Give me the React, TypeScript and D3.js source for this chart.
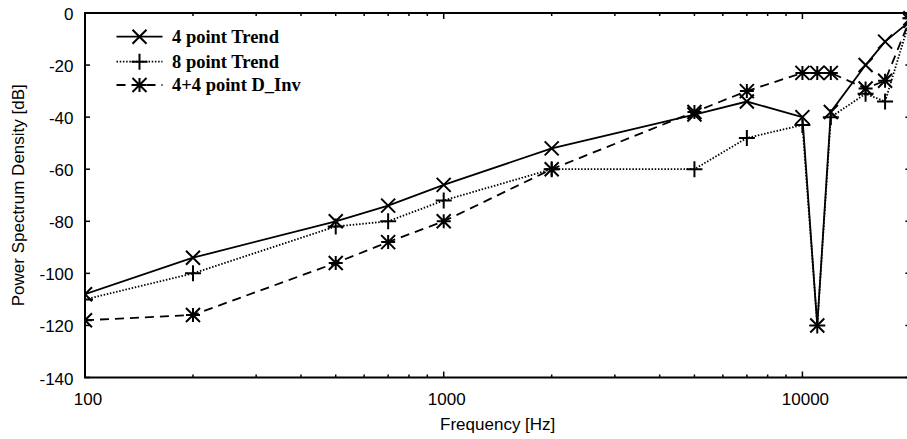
import React from "react";
import * as d3 from "d3";

const freqs = [100, 200, 500, 700, 1000, 2000, 5000, 7000, 10000, 11000, 12000, 15000, 17000, 20000];
const trend4 = [-108, -94, -80, -74, -66, -52, -39, -34, -40, -120, -38, -20, -11, -3];
const trend8 = [-110, -100, -82, -80, -72, -60, -60, -48, -43, -120, -40, -31, -34, -2];
const dInv = [-118, -116, -96, -88, -80, -60, -38, -30, -23, -23, -23, -29, -26, -2];

const seriesNames = ["4 point Trend", "8 point Trend", "4+4 point D_Inv"];
const yTicks = [0, -20, -40, -60, -80, -100, -120, -140];
const xMajor = [100, 1000, 10000];

const W = 907;
const H = 439;
const left = 85;
const right = 910.4;
const top = 13;
const bottom = 377.5;

const x = d3.scaleLog().domain([100, 20000]).range([left, right]);
const y = d3.scaleLinear().domain([-140, 0]).range([bottom, top]);

type Marker = "x" | "plus" | "star";

function MarkerShape({ cx, cy, kind, r = 7 }: { cx: number; cy: number; kind: Marker; r?: number }) {
  const parts: string[] = [];
  if (kind === "x" || kind === "star") {
    parts.push(`M${cx - r},${cy - r}L${cx + r},${cy + r}M${cx - r},${cy + r}L${cx + r},${cy - r}`);
  }
  if (kind === "plus" || kind === "star") {
    const p = kind === "star" ? r : r + 1;
    parts.push(`M${cx - p},${cy}L${cx + p},${cy}M${cx},${cy - p}L${cx},${cy + p}`);
  }
  return <path d={parts.join("")} stroke="#000" strokeWidth={2} fill="none" />;
}

const seriesDefs = [
  { name: seriesNames[0], values: trend4, dash: "none", marker: "x" as Marker },
  { name: seriesNames[1], values: trend8, dash: "1.5,1.7", marker: "plus" as Marker },
  { name: seriesNames[2], values: dInv, dash: "9,6", marker: "star" as Marker },
];

export default function App() {
  const line = d3
    .line<number>()
    .x((_, i) => x(freqs[i]))
    .y((v) => y(v));

  const minorTicks: number[] = [];
  for (let dec = 100; dec < 20000; dec *= 10) {
    for (let k = 2; k <= 9; k++) {
      const f = dec * k;
      if (f <= 20000) minorTicks.push(f);
    }
  }

  const sans = "'Liberation Sans', Arial, sans-serif";
  const serif = "'Liberation Serif', 'Times New Roman', serif";

  const legendRows = [36.7, 61.7, 85];

  return (
    <div style={{ position: "absolute", left: 0, top: 0 }}>
      <svg width={W} height={H} style={{ display: "block", background: "#fff" }}>
        <defs>
          <clipPath id="plotclip">
            <rect x={left} y={top - 10} width={right - left + 10} height={bottom - top + 20} />
          </clipPath>
        </defs>
        <rect x={0} y={0} width={W} height={H} fill="#fff" />

        {/* minor x ticks */}
        {minorTicks.map((f) => (
          <g key={"mt" + f}>
            <line x1={x(f)} x2={x(f)} y1={bottom} y2={bottom - 3} stroke="#000" strokeWidth={1.5} />
            <line x1={x(f)} x2={x(f)} y1={top} y2={top + 3} stroke="#000" strokeWidth={1.5} />
          </g>
        ))}
        {/* major x ticks */}
        {xMajor.map((f) => (
          <g key={"xt" + f}>
            <line x1={x(f)} x2={x(f)} y1={bottom} y2={bottom - 6} stroke="#000" strokeWidth={1.5} />
            <line x1={x(f)} x2={x(f)} y1={top} y2={top + 6} stroke="#000" strokeWidth={1.5} />
            <text x={x(f) + 3} y={405} textAnchor="middle" fontFamily={sans} fontSize={17} fill="#000">
              {f}
            </text>
          </g>
        ))}
        {/* y ticks */}
        {yTicks.map((v) => (
          <g key={"yt" + v}>
            <line x1={left} x2={left + 5} y1={y(v)} y2={y(v)} stroke="#000" strokeWidth={1.5} />
            <line x1={right} x2={right - 5} y1={y(v)} y2={y(v)} stroke="#000" strokeWidth={1.5} />
            <text x={73.5} y={y(v) + 7} textAnchor="end" fontFamily={sans} fontSize={17} fill="#000">
              {v}
            </text>
          </g>
        ))}

        {/* frame */}
        <rect x={left} y={top} width={right - left} height={bottom - top} fill="none" stroke="#000" strokeWidth={2} />

        {/* series */}
        <g clipPath="url(#plotclip)">
          {seriesDefs.map((s) => (
            <path
              key={"l" + s.name}
              d={line(s.values) || ""}
              fill="none"
              stroke="#000"
              strokeWidth={1.8}
              strokeDasharray={s.dash}
            />
          ))}
          {seriesDefs.map((s) =>
            s.values.map((v, i) => (
              <MarkerShape key={s.name + i} cx={x(freqs[i])} cy={y(v)} kind={s.marker} />
            ))
          )}
        </g>

        {/* legend */}
        {seriesDefs.map((s, i) => (
          <g key={"lg" + s.name}>
            <line
              x1={116.5}
              x2={162.5}
              y1={legendRows[i]}
              y2={legendRows[i]}
              stroke="#000"
              strokeWidth={1.8}
              strokeDasharray={s.dash}
            />
            <MarkerShape cx={139.5} cy={legendRows[i]} kind={s.marker} />
            <text x={172} y={legendRows[i] + 6} fontFamily={serif} fontWeight="bold" fontSize={18.5} fill="#000">
              {s.name}
            </text>
          </g>
        ))}

        {/* axis titles */}
        <text x={(left + right) / 2} y={430} textAnchor="middle" fontFamily={sans} fontSize={17} fill="#000">
          Frequency [Hz]
        </text>
        <text
          transform={`translate(23.5, ${(top + bottom) / 2}) rotate(-90)`}
          textAnchor="middle"
          fontFamily={sans}
          fontSize={17}
          fill="#000"
        >
          Power Spectrum Density [dB]
        </text>
      </svg>
    </div>
  );
}
